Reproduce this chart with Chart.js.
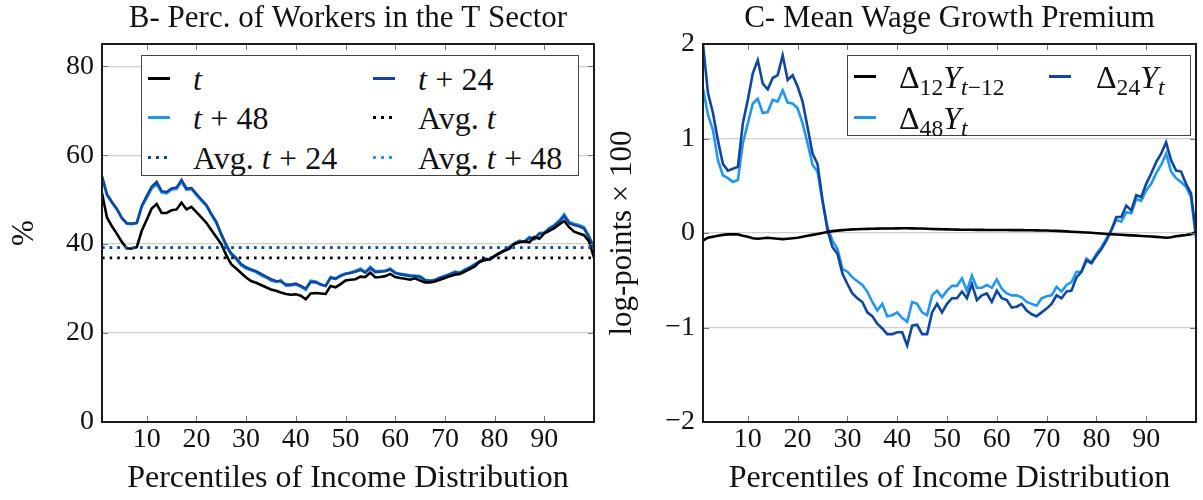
<!DOCTYPE html>
<html>
<head>
<meta charset="utf-8">
<script src="https://cdn.jsdelivr.net/npm/chart.js@4.4.1/dist/chart.umd.min.js"></script>
<style>
  html, body { margin: 0; padding: 0; background: #fff; }
  #wrap { position: relative; width: 1203px; height: 500px; overflow: hidden; font-family: "Liberation Serif", serif; color: #111; }
  #cL { position: absolute; left: 0; top: 0; }
  #cR { position: absolute; left: 600px; top: 0; }
  .legend { position: absolute; background: #fff; border: 1.3px solid #444; box-sizing: border-box; }
  .item { position: absolute; font-size: 32px; line-height: 36px; white-space: nowrap; }
  .smp { position: absolute; height: 3px; width: 22px; }
  .dots { position: absolute; height: 3px; width: 22px; }
  .op { margin: 0 0.26em; }
  sub { font-size: 74%; vertical-align: -0.28em; line-height: 0; }
  i { font-style: italic; }
</style>
</head>
<body>
<div id="wrap">
  <canvas id="cL" width="600" height="500"></canvas>
  <canvas id="cR" width="603" height="500"></canvas>
  <div class="legend" id="legL" style="left:141px;top:55px;width:438px;height:121px;"></div>
  <div class="legend" id="legR" style="left:847px;top:55px;width:344px;height:81px;"></div>
</div>
<script>
// ---------------- DATA ----------------
const percentiles = [1,2,3,4,5,6,7,8,9,10,11,12,13,14,15,16,17,18,19,20,21,22,23,24,25,26,27,28,29,30,31,32,33,34,35,36,37,38,39,40,41,42,43,44,45,46,47,48,49,50,51,52,53,54,55,56,57,58,59,60,61,62,63,64,65,66,67,68,69,70,71,72,73,74,75,76,77,78,79,80,81,82,83,84,85,86,87,88,89,90,91,92,93,94,95,96,97,98,99,100];
const xTickValues = [10,20,30,40,50,60,70,80,90];
const yTicksB = [0,20,40,60,80];
const yTicksC = [-2,-1,0,1,2];

// Panel B: % of workers in T sector
const shareT = [51.5,46.0,44.0,42.3,40.5,39.0,39.0,39.3,43.0,45.5,48.0,49.0,47.0,47.0,47.6,47.8,49.3,47.8,48.4,47.2,46.0,44.8,43.2,41.6,40.0,37.5,35.5,34.5,33.5,32.5,31.7,31.3,30.8,30.3,29.8,29.5,29.1,28.8,28.6,28.7,28.4,27.6,28.9,29.0,28.9,28.8,30.6,30.3,31.0,31.8,32.0,32.1,32.7,32.6,33.6,32.5,32.6,32.8,33.3,32.6,32.4,32.2,32.0,32.3,31.8,31.4,31.4,31.6,32.0,32.4,32.8,33.1,33.3,33.8,34.4,35.0,36.0,36.4,36.6,37.3,38.0,38.5,39.0,40.0,40.4,40.6,40.4,41.6,41.2,42.4,43.0,43.6,44.4,45.2,43.8,42.8,42.4,42.0,40.6,36.9];
const shareT24 = [55.3,51.2,49.5,47.9,45.9,44.7,44.6,44.8,48.6,50.8,52.9,54.0,51.9,51.7,52.5,52.7,54.4,52.5,52.6,51.3,50.0,48.8,46.8,45.0,42.3,39.8,37.9,36.9,35.5,34.8,34.3,33.9,33.3,32.7,32.1,31.7,31.6,30.9,30.9,31.1,30.6,30.0,31.5,31.4,30.9,30.6,32.4,32.2,32.8,33.3,33.5,33.8,34.2,33.6,34.6,33.7,33.8,33.9,34.3,33.5,33.2,33.0,32.8,32.8,32.6,31.9,31.7,31.9,32.4,32.8,33.2,33.6,33.5,34.1,34.7,35.3,36.1,36.6,36.5,37.3,37.9,38.6,39.3,40.1,40.6,40.5,41.4,41.1,42.3,42.5,43.4,44.1,45.0,46.3,44.7,44.3,44.0,43.5,41.5,39.0];
const shareT48 = [55.0,51.0,49.3,47.8,45.8,44.6,44.5,44.7,48.4,50.4,52.5,53.5,51.6,51.4,52.3,52.4,54.0,52.2,52.4,51.0,49.8,48.6,46.6,44.8,42.0,39.5,37.6,36.6,35.2,34.5,34.1,33.7,33.0,32.5,31.8,31.5,31.9,30.6,30.7,30.9,30.4,29.7,31.8,31.6,31.0,30.6,32.6,32.3,33.0,33.4,33.6,34.0,34.5,33.7,34.9,33.9,34.0,34.0,34.5,33.6,33.3,33.2,33.0,32.9,32.8,32.0,31.8,32.0,32.5,32.9,33.3,33.8,33.6,34.3,34.8,35.5,36.2,36.8,36.6,37.4,38.0,38.7,39.4,40.2,40.8,40.6,41.6,41.3,42.5,42.6,43.6,44.3,45.3,46.7,45.0,44.6,44.3,43.8,41.8,39.4];
const averagesB = [36.9, 39.2, 39.3]; // Avg t, Avg t+24, Avg t+48

// Panel C: mean wage growth premium
const growth12 = [-0.08,-0.05,-0.04,-0.03,-0.02,-0.015,-0.015,-0.015,-0.03,-0.04,-0.055,-0.06,-0.055,-0.05,-0.055,-0.06,-0.065,-0.06,-0.055,-0.05,-0.04,-0.03,-0.02,-0.01,0.0,0.01,0.02,0.025,0.03,0.035,0.038,0.04,0.042,0.044,0.045,0.046,0.047,0.048,0.048,0.049,0.05,0.05,0.049,0.048,0.047,0.045,0.043,0.041,0.04,0.038,0.037,0.036,0.035,0.034,0.034,0.033,0.033,0.032,0.032,0.031,0.031,0.031,0.03,0.03,0.03,0.029,0.029,0.028,0.027,0.026,0.024,0.022,0.02,0.017,0.014,0.011,0.008,0.005,0.002,-0.002,-0.006,-0.01,-0.013,-0.016,-0.019,-0.022,-0.025,-0.028,-0.031,-0.034,-0.037,-0.041,-0.045,-0.05,-0.045,-0.035,-0.028,-0.022,-0.012,0.01];
const growth24 = [2.0,1.48,1.27,0.98,0.73,0.66,0.68,0.70,1.16,1.41,1.69,1.83,1.58,1.52,1.64,1.67,1.88,1.62,1.67,1.55,1.39,1.12,0.84,0.73,0.35,0.03,-0.15,-0.22,-0.43,-0.54,-0.64,-0.69,-0.73,-0.84,-0.88,-0.96,-1.01,-1.07,-1.07,-1.05,-1.05,-1.19,-0.98,-0.97,-1.07,-1.07,-0.84,-0.75,-0.84,-0.75,-0.69,-0.69,-0.62,-0.69,-0.54,-0.71,-0.66,-0.64,-0.73,-0.61,-0.69,-0.71,-0.79,-0.78,-0.75,-0.82,-0.86,-0.88,-0.84,-0.80,-0.75,-0.66,-0.69,-0.62,-0.61,-0.47,-0.41,-0.29,-0.32,-0.24,-0.17,-0.08,0.03,0.17,0.17,0.29,0.24,0.40,0.38,0.52,0.63,0.75,0.84,0.96,0.77,0.66,0.65,0.52,0.42,-0.02];
const growth48 = [1.53,1.25,1.09,0.77,0.61,0.58,0.54,0.56,0.95,1.16,1.37,1.42,1.27,1.28,1.41,1.39,1.51,1.38,1.37,1.32,1.16,0.95,0.72,0.65,0.33,0.06,-0.08,-0.17,-0.38,-0.41,-0.47,-0.51,-0.55,-0.62,-0.73,-0.82,-0.75,-0.88,-0.87,-0.84,-0.90,-0.94,-0.73,-0.75,-0.84,-0.87,-0.66,-0.61,-0.68,-0.61,-0.56,-0.56,-0.48,-0.61,-0.45,-0.58,-0.58,-0.55,-0.58,-0.49,-0.59,-0.64,-0.66,-0.66,-0.68,-0.73,-0.75,-0.77,-0.69,-0.67,-0.66,-0.57,-0.62,-0.55,-0.52,-0.41,-0.41,-0.27,-0.31,-0.22,-0.15,-0.06,0.03,0.14,0.12,0.22,0.21,0.36,0.34,0.45,0.52,0.63,0.72,0.84,0.65,0.58,0.54,0.49,0.38,-0.05];

// ---------------- STYLE ----------------
const BLACK = '#000000', DARK = '#0D47A1', LIGHT = '#2196F3';
const FONT = '"Liberation Serif", serif';
Chart.defaults.font.family = FONT;
Chart.defaults.color = '#111';

const toXY = vals => vals.map((v, i) => ({ x: percentiles[i], y: v }));
const flat = v => [{ x: percentiles[0], y: v }, { x: percentiles[percentiles.length - 1], y: v }];

function framePlugin(yTicks) {
  return {
    id: 'frame',
    afterDraw(chart) {
      const { ctx, chartArea: a, scales: { x, y } } = chart;
      ctx.save();
      ctx.strokeStyle = '#777'; ctx.lineWidth = 1;
      ctx.beginPath();
      xTickValues.forEach(v => {
        const px = Math.round(x.getPixelForValue(v)) + 0.5;
        ctx.moveTo(px, a.bottom); ctx.lineTo(px, a.bottom - 6);
        ctx.moveTo(px, a.top); ctx.lineTo(px, a.top + 6);
      });
      yTicks.forEach(v => {
        const py = Math.round(y.getPixelForValue(v)) + 0.5;
        ctx.moveTo(a.left, py); ctx.lineTo(a.left + 6, py);
        ctx.moveTo(a.right, py); ctx.lineTo(a.right - 6, py);
      });
      ctx.stroke();
      ctx.strokeStyle = '#1a1a1a'; ctx.lineWidth = 2;
      ctx.strokeRect(a.left, a.top, a.right - a.left, a.bottom - a.top);
      ctx.restore();
    }
  };
}

function lineDs(label, vals, color) {
  return { label, data: toXY(vals), borderColor: color, backgroundColor: color, borderWidth: 2.6, pointRadius: 0, tension: 0, fill: false };
}
function avgDs(label, v, color) {
  return { label, data: flat(v), borderColor: color, backgroundColor: color, borderWidth: 2.6, borderDash: [2.6, 5], pointRadius: 0, fill: false };
}

function makeOptions(cfg) {
  return {
    responsive: false, animation: false, devicePixelRatio: 1,
    layout: { padding: { left: 0, right: cfg.padRight, top: 0, bottom: 0 } },
    plugins: {
      legend: { display: false }, tooltip: { enabled: false },
      title: { display: true, text: cfg.title, fullSize: false, color: '#111',
        font: { family: FONT, size: 31, weight: 'normal', lineHeight: 1.2 }, padding: { top: 0, bottom: 6.8 } }
    },
    scales: {
      x: {
        type: 'linear', min: percentiles[0], max: percentiles[percentiles.length - 1],
        afterBuildTicks: s => { s.ticks = xTickValues.map(v => ({ value: v })); },
        afterFit: s => { s.height = 78; },
        grid: { display: false, drawTicks: false },
        border: { display: false },
        ticks: { font: { size: 28 }, padding: 1, color: '#111', maxRotation: 0, autoSkip: false },
        title: { display: true, text: 'Percentiles of Income Distribution', color: '#111', font: { size: 32 }, padding: { top: 0, bottom: 2 } }
      },
      y: {
        type: 'linear', min: cfg.ymin, max: cfg.ymax,
        afterBuildTicks: s => { s.ticks = cfg.yTicks.map(v => ({ value: v })); },
        afterFit: s => { s.width = cfg.yWidth; },
        grid: { color: '#cfcfcf', lineWidth: 1.3, drawTicks: false },
        border: { display: false },
        ticks: { font: { size: 28 }, padding: 8, color: '#111', autoSkip: false,
          callback: v => (v < 0 ? '\u2212' + Math.abs(v) : String(v)) },
        title: { display: true, text: cfg.ytitle, color: '#111', font: { size: 31 }, padding: { top: cfg.ytitlePad, bottom: 0 } }
      }
    }
  };
}

new Chart(document.getElementById('cL'), {
  type: 'line',
  data: { datasets: [
    avgDs('Avg. t', averagesB[0], BLACK),
    avgDs('Avg. t+24', averagesB[1], DARK),
    avgDs('Avg. t+48', averagesB[2], LIGHT),
    lineDs('t', shareT, BLACK),
    lineDs('t+24', shareT24, DARK),
    lineDs('t+48', shareT48, LIGHT)
  ] },
  options: makeOptions({ title: 'B- Perc. of Workers in the T Sector', padRight: 6, ymin: 0, ymax: 85, yTicks: yTicksB, yWidth: 102, ytitle: '%', ytitlePad: 6 }),
  plugins: [framePlugin(yTicksB)]
});

new Chart(document.getElementById('cR'), {
  type: 'line',
  data: { datasets: [
    lineDs('Δ12 Y t−12', growth12, BLACK),
    lineDs('Δ24 Y t', growth24, DARK),
    lineDs('Δ48 Y t', growth48, LIGHT)
  ] },
  options: makeOptions({ title: 'C- Mean Wage Growth Premium', padRight: 7, ymin: -2, ymax: 2, yTicks: yTicksC, yWidth: 103, ytitle: 'log-points \u00d7 100', ytitlePad: 4 }),
  plugins: [framePlugin(yTicksC)]
});

// ---------------- LEGENDS (HTML text) ----------------
function addItem(leg, box, rowY, sx, tx, color, dotted, html) {
  const s = document.createElement('div');
  s.className = dotted ? 'dots' : 'smp';
  s.style.left = (sx - box.left) + 'px';
  s.style.top = (rowY - box.top - 1.5) + 'px';
  s.style.background = dotted
    ? 'repeating-linear-gradient(to right,' + color + ' 0 3px, transparent 3px 8px)'
    : color;
  leg.appendChild(s);
  const t = document.createElement('div');
  t.className = 'item';
  t.style.left = (tx - box.left) + 'px';
  t.style.top = (rowY - box.top - 17) + 'px';
  t.innerHTML = html;
  leg.appendChild(t);
}
const PLUS = '<span class="op">+</span>';
const legL = document.getElementById('legL'), boxL = { left: 141, top: 55 };
const rowsL = [77, 116, 156];
addItem(legL, boxL, rowsL[0], 147, 192, BLACK, false, '<i>t</i>');
addItem(legL, boxL, rowsL[0], 372, 417, DARK, false, '<i>t</i>' + PLUS + '24');
addItem(legL, boxL, rowsL[1], 147, 192, LIGHT, false, '<i>t</i>' + PLUS + '48');
addItem(legL, boxL, rowsL[1], 372, 417, BLACK, true, 'Avg. <i>t</i>');
addItem(legL, boxL, rowsL[2], 147, 192, DARK, true, 'Avg. <i>t</i>' + PLUS + '24');
addItem(legL, boxL, rowsL[2], 372, 417, LIGHT, true, 'Avg. <i>t</i>' + PLUS + '48');

const legR = document.getElementById('legR'), boxR = { left: 847, top: 55 };
const rowsR = [75, 116];
addItem(legR, boxR, rowsR[0], 853, 898, BLACK, false, '\u0394<sub>12</sub><i>Y</i><sub><i>t</i>\u221212</sub>');
addItem(legR, boxR, rowsR[0], 1048, 1095, DARK, false, '\u0394<sub>24</sub><i>Y</i><sub><i>t</i></sub>');
addItem(legR, boxR, rowsR[1], 853, 898, LIGHT, false, '\u0394<sub>48</sub><i>Y</i><sub><i>t</i></sub>');
</script>
</body>
</html>
